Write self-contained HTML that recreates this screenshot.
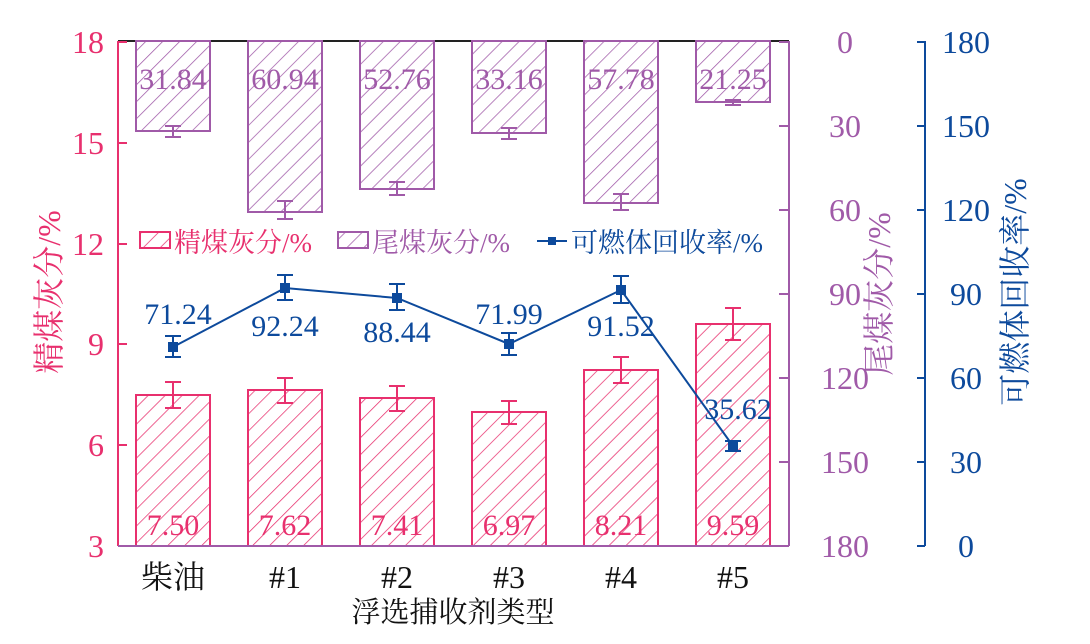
<!DOCTYPE html>
<html><head><meta charset="utf-8"><style>body{margin:0;background:#fff}svg{display:block}text{font-family:"Liberation Serif","Noto Serif CJK SC",serif}</style></head><body>
<svg width="1090" height="644" viewBox="0 0 1090 644" xmlns="http://www.w3.org/2000/svg">
<defs>
<pattern id="hp" patternUnits="userSpaceOnUse" width="12" height="12" patternTransform="rotate(45)"><line x1="0" y1="0" x2="0" y2="12" stroke="#e8306e" stroke-width="1.5"/></pattern>
<pattern id="hv" patternUnits="userSpaceOnUse" width="12" height="12" patternTransform="rotate(45)"><line x1="0" y1="0" x2="0" y2="12" stroke="#a05aa8" stroke-width="1.5"/></pattern>
</defs>
<line x1="118" y1="41" x2="789" y2="41" stroke="#222" stroke-width="2"/>
<g stroke="#e8306e" stroke-width="2" fill="url(#hp)">
<rect x="136" y="395" width="74" height="151"/>
<rect x="248" y="390" width="74" height="156"/>
<rect x="360" y="398" width="74" height="148"/>
<rect x="472" y="412" width="74" height="134"/>
<rect x="584" y="370" width="74" height="176"/>
<rect x="696" y="324" width="74" height="222"/>
</g>
<g stroke="#e8306e" stroke-width="2" fill="none">
<path d="M173 382V408M165 382H181M165 408H181"/>
<path d="M285 378V403M277 378H293M277 403H293"/>
<path d="M397 386V411M389 386H405M389 411H405"/>
<path d="M509 401V424M501 401H517M501 424H517"/>
<path d="M621 357V383M613 357H629M613 383H629"/>
<path d="M733 308V340M725 308H741M725 340H741"/>
</g>
<g fill="#e8306e" font-size="30" text-anchor="middle">
<text x="173" y="535">7.50</text><text x="285" y="535">7.62</text><text x="397" y="535">7.41</text><text x="509" y="535">6.97</text><text x="621" y="535">8.21</text><text x="733" y="535">9.59</text>
</g>
<g stroke="#a05aa8" stroke-width="2" fill="url(#hv)">
<rect x="136" y="41" width="74" height="90"/>
<rect x="248" y="41" width="74" height="171"/>
<rect x="360" y="41" width="74" height="148"/>
<rect x="472" y="41" width="74" height="92"/>
<rect x="584" y="41" width="74" height="162"/>
<rect x="696" y="41" width="74" height="61"/>
</g>
<g stroke="#a05aa8" stroke-width="2" fill="none">
<path d="M173 126V137M165 126H181M165 137H181"/>
<path d="M285 201V219M277 201H293M277 219H293"/>
<path d="M397 182V195M389 182H405M389 195H405"/>
<path d="M509 128V139M501 128H517M501 139H517"/>
<path d="M621 194V210M613 194H629M613 210H629"/>
<path d="M733 100V105M725 100H741M725 105H741"/>
</g>
<g fill="#a05aa8" font-size="30" text-anchor="middle">
<text x="173" y="89">31.84</text><text x="285" y="89">60.94</text><text x="397" y="89">52.76</text><text x="509" y="89">33.16</text><text x="621" y="89">57.78</text><text x="733" y="89">21.25</text>
</g>
<polyline points="173,347 285,288 397,298 509,344 621,290 733,446" fill="none" stroke="#0d4a9c" stroke-width="2"/>
<g stroke="#0d4a9c" stroke-width="2" fill="none">
<path d="M173 336V357M165 336H181M165 357H181"/>
<path d="M285 275V300M277 275H293M277 300H293"/>
<path d="M397 284V310M389 284H405M389 310H405"/>
<path d="M509 333V355M501 333H517M501 355H517"/>
<path d="M621 276V303M613 276H629M613 303H629"/>
<path d="M733 441V451M725 441H741M725 451H741"/>
</g>
<g fill="#0d4a9c">
<rect x="168" y="342" width="10" height="10"/><rect x="280" y="283" width="10" height="10"/><rect x="392" y="293" width="10" height="10"/><rect x="504" y="339" width="10" height="10"/><rect x="616" y="285" width="10" height="10"/><rect x="728" y="441" width="10" height="10"/>
</g>
<g fill="#0d4a9c" font-size="30" text-anchor="middle">
<text x="178" y="324">71.24</text><text x="285" y="336">92.24</text><text x="397" y="342">88.44</text><text x="509" y="324">71.99</text><text x="621" y="336">91.52</text><text x="738" y="419">35.62</text>
</g>
<rect x="140" y="232" width="30" height="16" fill="url(#hp)" stroke="#e8306e" stroke-width="2"/>
<text x="174" y="252" font-size="27" fill="#e8306e">精煤灰分/%</text>
<rect x="338" y="232" width="30" height="16" fill="url(#hv)" stroke="#a05aa8" stroke-width="2"/>
<text x="372" y="252" font-size="27" fill="#a05aa8">尾煤灰分/%</text>
<line x1="537" y1="241" x2="567" y2="241" stroke="#0d4a9c" stroke-width="2"/><rect x="548" y="237" width="8" height="8" fill="#0d4a9c"/>
<text x="571" y="252" font-size="27" fill="#0d4a9c">可燃体回收率/%</text>
<g stroke="#e8306e" stroke-width="2"><line x1="118" y1="41" x2="118" y2="546"/>
<path d="M118 42H127M118 143H127M118 244H127M118 344H127M118 445H127M118 546H127"/></g>
<g fill="#e8306e" font-size="32" text-anchor="end"><text x="104" y="53">18</text><text x="104" y="154">15</text><text x="104" y="255">12</text><text x="104" y="355">9</text><text x="104" y="456">6</text><text x="104" y="557">3</text></g>
<text transform="translate(60,292) rotate(-90)" font-size="32" fill="#e8306e" text-anchor="middle">精煤灰分/%</text>
<g stroke="#a05aa8" stroke-width="2"><line x1="789" y1="41" x2="789" y2="546"/>
<path d="M779 42H789M779 126H789M779 210H789M779 294H789M779 378H789M779 462H789M779 546H789M118 546H789"/></g>
<g fill="#a05aa8" font-size="32" text-anchor="middle"><text x="845" y="53">0</text><text x="845" y="137">30</text><text x="845" y="221">60</text><text x="845" y="305">90</text><text x="845" y="389">120</text><text x="845" y="473">150</text><text x="845" y="557">180</text></g>
<text transform="translate(890,294) rotate(-90)" font-size="32" fill="#a05aa8" text-anchor="middle">尾煤灰分/%</text>
<g stroke="#0d4a9c" stroke-width="2"><line x1="925" y1="41" x2="925" y2="546"/>
<path d="M917 42H925M917 126H925M917 210H925M917 294H925M917 378H925M917 462H925M917 546H925"/></g>
<g fill="#0d4a9c" font-size="32" text-anchor="middle"><text x="966" y="53">180</text><text x="966" y="137">150</text><text x="966" y="221">120</text><text x="966" y="305">90</text><text x="966" y="389">60</text><text x="966" y="473">30</text><text x="966" y="557">0</text></g>
<text transform="translate(1026,292) rotate(-90)" font-size="32" fill="#0d4a9c" text-anchor="middle">可燃体回收率/%</text>
<g fill="#111" font-size="32" text-anchor="middle"><text x="173" y="588">柴油</text><text x="285" y="588">#1</text><text x="397" y="588">#2</text><text x="509" y="588">#3</text><text x="621" y="588">#4</text><text x="733" y="588">#5</text></g>
<text x="453" y="622" font-size="29" fill="#111" text-anchor="middle">浮选捕收剂类型</text>
</svg>
</body></html>
